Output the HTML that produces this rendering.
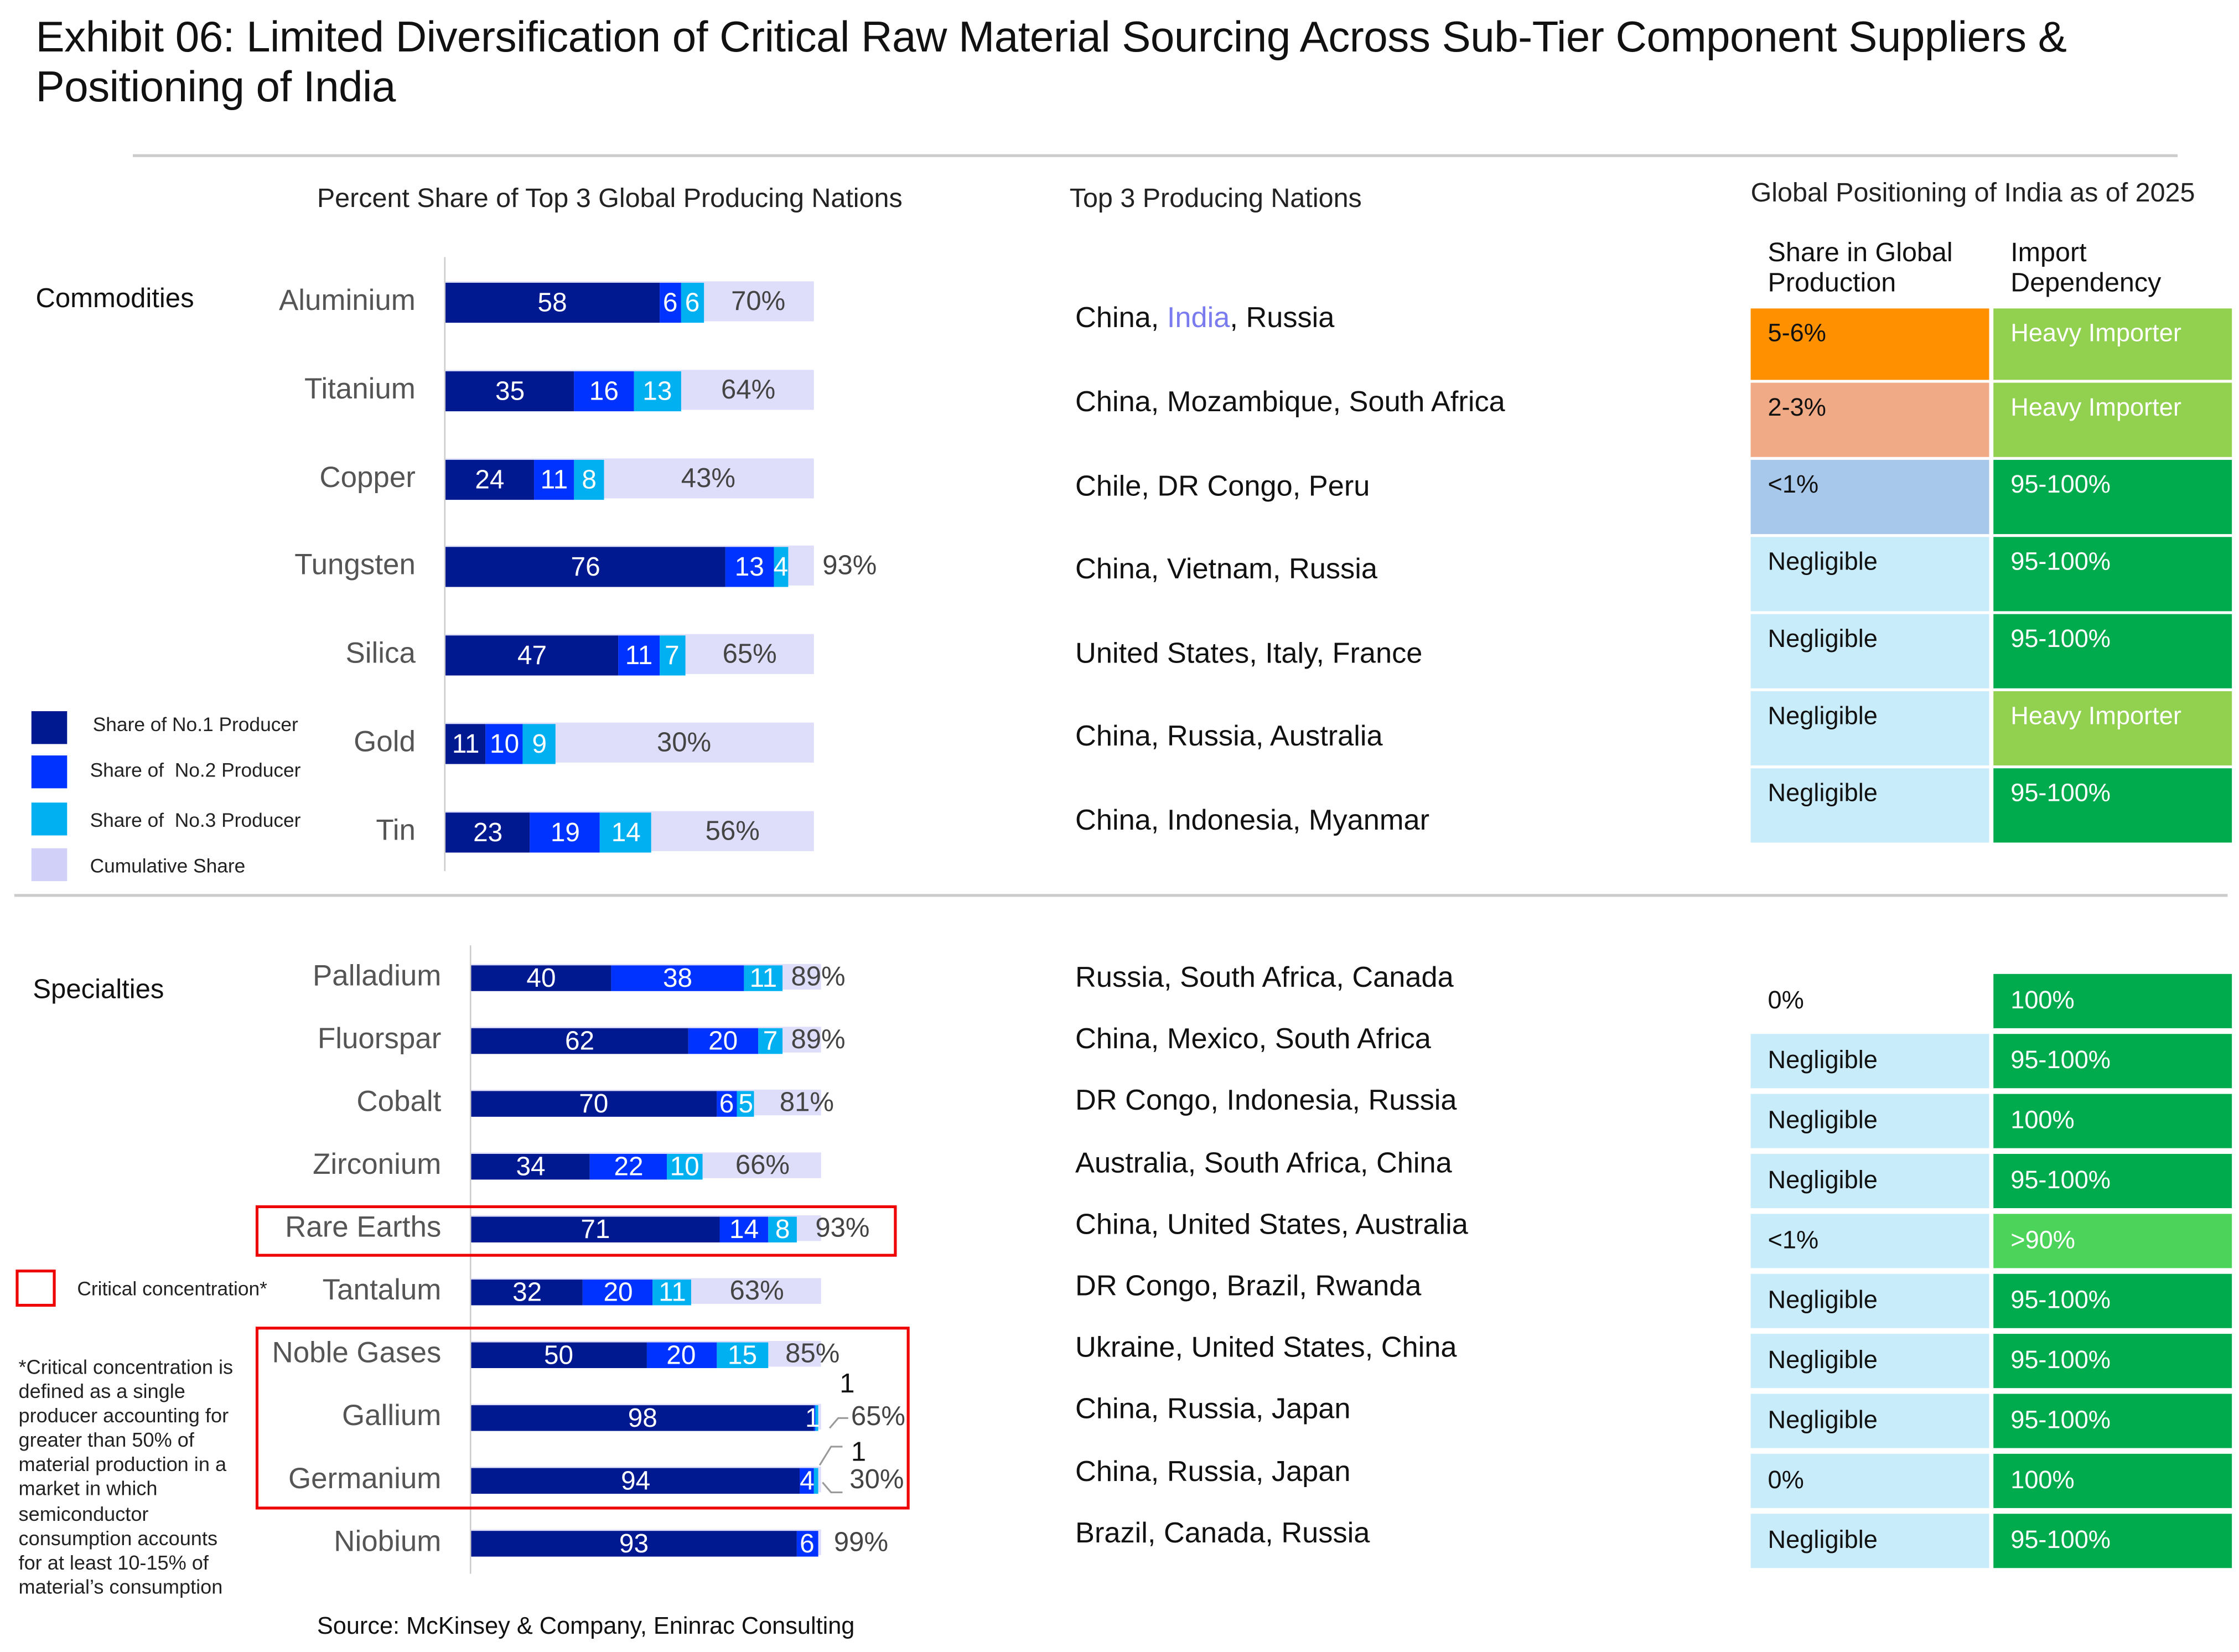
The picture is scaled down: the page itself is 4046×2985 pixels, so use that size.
<!DOCTYPE html>
<html><head><meta charset="utf-8"><style>
html,body{margin:0;padding:0;background:#fff;}
#wrap{width:4046px;height:2985px;overflow:hidden;position:relative;}
#c{position:absolute;left:0;top:0;width:1568px;height:1157px;transform:scale(2.5804);transform-origin:0 0;font-family:"Liberation Sans",sans-serif;color:#222;}
.a{position:absolute;white-space:nowrap;}
.seg{position:absolute;color:#fff;font-size:18.5px;text-align:center;overflow:visible;display:flex;align-items:center;justify-content:center;}
.lab{position:absolute;font-size:20.5px;color:#555;text-align:right;}
.cum{position:absolute;font-size:19px;color:#444;transform:translateX(-50%);}
.cty{position:absolute;font-size:20.3px;color:#111;}
.cell{position:absolute;font-size:17.5px;padding:6px 0 0 12px;box-sizing:border-box;}
</style></head><body><div id="wrap"><div id="c">
<div class="a" style="left:25px;top:9px;font-size:30.3px;color:#111;line-height:35px;letter-spacing:-0.2px">Exhibit 06: Limited Diversification of Critical Raw Material Sourcing Across Sub-Tier Component Suppliers &amp;<br>Positioning of India</div>
<div class="a" style="left:93px;top:108px;width:1432px;height:2px;background:#ccc"></div>
<div class="a" style="left:10px;top:626px;width:1550px;height:2px;background:#ccc"></div>
<div class="a" style="left:222px;top:128px;font-size:18.8px;">Percent Share of Top 3 Global Producing Nations</div>
<div class="a" style="left:749px;top:128px;font-size:18.8px;">Top 3 Producing Nations</div>
<div class="a" style="left:1226px;top:124px;font-size:18.8px;">Global Positioning of India as of 2025</div>
<div class="a" style="left:1238px;top:166px;font-size:18.8px;line-height:21px;color:#111">Share in Global<br>Production</div>
<div class="a" style="left:1408px;top:166px;font-size:18.8px;line-height:21px;color:#111">Import<br>Dependency</div>
<div class="a" style="left:25px;top:199px;font-size:19px;color:#111">Commodities</div>
<div class="a" style="left:23px;top:683px;font-size:19px;color:#111">Specialties</div>
<div class="a" style="left:311px;top:180px;width:1px;height:430px;background:#ccc"></div>
<div class="a" style="left:329px;top:662px;width:1px;height:440px;background:#ccc"></div>
<div class="a" style="left:22px;top:498px;width:25px;height:23px;background:#001890"></div>
<div class="a" style="left:22px;top:529px;width:25px;height:23px;background:#0033FF"></div>
<div class="a" style="left:22px;top:562px;width:25px;height:23px;background:#00B0F0"></div>
<div class="a" style="left:22px;top:594px;width:25px;height:23px;background:#D0D0F8"></div>
<div class="a" style="left:65px;top:500px;font-size:13.7px;color:#222">Share of No.1 Producer</div>
<div class="a" style="left:63px;top:532px;font-size:13.7px;color:#222">Share of &nbsp;No.2 Producer</div>
<div class="a" style="left:63px;top:567px;font-size:13.7px;color:#222">Share of &nbsp;No.3 Producer</div>
<div class="a" style="left:63px;top:599px;font-size:13.7px;color:#222">Cumulative Share</div>
<div class="a" style="left:11px;top:889px;width:24px;height:22px;border:2px solid #e00;"></div>
<div class="a" style="left:54px;top:895px;font-size:13.7px;color:#222">Critical concentration*</div>
<div class="a" style="left:13px;top:949px;font-size:14px;line-height:17.1px;color:#222">*Critical concentration is<br>defined as a single<br>producer accounting for<br>greater than 50% of<br>material production in a<br>market in which<br>semiconductor<br>consumption accounts<br>for at least 10-15% of<br>material’s consumption</div>
<div class="a" style="left:222px;top:1129px;font-size:16.8px;color:#111">Source: McKinsey &amp; Company, Eninrac Consulting</div>
<div class="a" style="left:179px;top:844px;width:445px;height:32px;border:2px solid #e00;"></div>
<div class="a" style="left:179px;top:929px;width:454px;height:124px;border:2px solid #e00;"></div>
<svg class="a" style="left:0;top:0" width="1568" height="1157">
<polyline points="581,1000 587,993 594,993" fill="none" stroke="#999" stroke-width="1.2"/>
<polyline points="574,1026 582,1013 590,1013" fill="none" stroke="#999" stroke-width="1.2"/>
<polyline points="576,1038 582,1045 590,1045" fill="none" stroke="#999" stroke-width="1.2"/>
</svg>
<div class="a" style="left:588px;top:959px;font-size:19px;color:#111">1</div>
<div class="a" style="left:596px;top:1007px;font-size:19px;color:#111">1</div>
<div id="bars"></div>
</div></div>
<script>
var B=document.getElementById('bars'),h='';
var C=['#001890','#0033FF','#00B0F0'];
function row(x0,unit,cy,bh,name,labR,vals,cx,cum,lab){
  h+='<div class="lab" style="right:'+(1568-labR)+'px;top:'+(cy-12)+'px">'+name+'</div>';
  h+='<div class="a" style="left:'+x0+'px;top:'+(cy-bh/2)+'px;width:'+(unit*100)+'px;height:'+bh+'px;background:#DEDEFA"></div>';
  var x=x0;
  for(var i=0;i<3;i++){var w=vals[i]*unit;
    h+='<div class="seg" style="left:'+x+'px;top:'+(cy-bh/2+1)+'px;width:'+w+'px;height:'+bh+'px;background:'+C[i]+'">'+(lab[i]===undefined?vals[i]:lab[i])+'</div>';x+=w;}
  h+='<div class="cum" style="left:'+cx+'px;top:'+(cy-10)+'px">'+cum+'</div>';
}
var com=[['Aluminium',[58,6,6],531,'70%'],['Titanium',[35,16,13],524,'64%'],['Copper',[24,11,8],496,'43%'],['Tungsten',[76,13,4],595,'93%'],['Silica',[47,11,7],525,'65%'],['Gold',[11,10,9],479,'30%'],['Tin',[23,19,14],513,'56%']];
com.forEach(function(r,i){row(312,2.58,211+i*61.8,28,r[0],291,r[1],r[2],r[3],[]);});
var sp=[['Palladium',[40,38,11],573,'89%',[]],['Fluorspar',[62,20,7],573,'89%',[]],['Cobalt',[70,6,5],565,'81%',[]],['Zirconium',[34,22,10],534,'66%',[]],['Rare Earths',[71,14,8],590,'93%',[]],['Tantalum',[32,20,11],530,'63%',[]],['Noble Gases',[50,20,15],569,'85%',[]],['Gallium',[98,0.5,0.5],615,'65%',[undefined,'','']],['Germanium',[94,4,1],614,'30%',[undefined,undefined,'']],['Niobium',[93,6,0],603,'99%',[undefined,undefined,'']]];
sp.forEach(function(r,i){row(330,2.45,684+i*44,18,r[0],309,r[1],r[2],r[3],r[4]);});
h+='<div class="seg" style="left:562px;top:984px;width:14px;height:18px">1</div>';
var cc=['China, <span style="color:#7b7bf0">India</span>, Russia','China, Mozambique, South Africa','Chile, DR Congo, Peru','China, Vietnam, Russia','United States, Italy, France','China, Russia, Australia','China, Indonesia, Myanmar'];
var cy=[223,282,341,399,458,516,575];
cc.forEach(function(t,i){h+='<div class="cty" style="left:753px;top:'+(cy[i]-11)+'px">'+t+'</div>';});
var sc=['Russia, South Africa, Canada','China, Mexico, South Africa','DR Congo, Indonesia, Russia','Australia, South Africa, China','China, United States, Australia','DR Congo, Brazil, Rwanda','Ukraine, United States, China','China, Russia, Japan','China, Russia, Japan','Brazil, Canada, Russia'];
sc.forEach(function(t,i){h+='<div class="cty" style="left:753px;top:'+(674+i*43.2)+'px">'+t+'</div>';});
var LG='#92D050',G='#00AB4E';
var ct=[['5-6%','#FF9100','Heavy Importer',LG],['2-3%','#F0AA86','Heavy Importer',LG],['<1%','#A7C8EA','95-100%',G],['Negligible','#C9ECFA','95-100%',G],['Negligible','#C9ECFA','95-100%',G],['Negligible','#C9ECFA','Heavy Importer',LG],['Negligible','#C9ECFA','95-100%',G]];
ct.forEach(function(r,i){var t=216+i*54,hh=(i==0?50:52);
 if(i>0)t=214+i*54;
 h+='<div class="cell" style="left:1226px;top:'+t+'px;width:167px;height:'+hh+'px;background:'+r[1]+';color:#111;padding-top:7px">'+r[0].replace('<','&lt;')+'</div>';
 h+='<div class="cell" style="left:1396px;top:'+t+'px;width:167px;height:'+hh+'px;background:'+r[3]+';color:#fff;padding-top:7px">'+r[2]+'</div>';});
var st=[['0%','#fff','100%',G],['Negligible','#C9ECFA','95-100%',G],['Negligible','#C9ECFA','100%',G],['Negligible','#C9ECFA','95-100%',G],['<1%','#C9ECFA','>90%','#4CD35A'],['Negligible','#C9ECFA','95-100%',G],['Negligible','#C9ECFA','95-100%',G],['Negligible','#C9ECFA','95-100%',G],['0%','#C9ECFA','100%',G],['Negligible','#C9ECFA','95-100%',G]];
st.forEach(function(r,i){var t=682+i*42;
 h+='<div class="cell" style="left:1226px;top:'+t+'px;width:167px;height:38px;background:'+r[1]+';color:#111;padding-top:8px">'+r[0].replace('<','&lt;')+'</div>';
 h+='<div class="cell" style="left:1396px;top:'+t+'px;width:167px;height:38px;background:'+r[3]+';color:#fff;padding-top:8px">'+r[2].replace('>','&gt;')+'</div>';});
B.innerHTML=h;
</script>
</body></html>
